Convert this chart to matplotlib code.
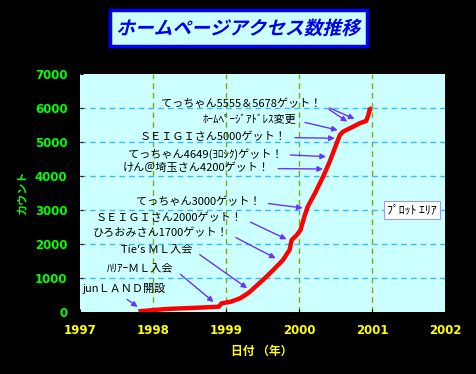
import matplotlib
matplotlib.use("Agg")
import matplotlib.pyplot as plt
from matplotlib.patches import Rectangle
from matplotlib.patheffects import AbstractPathEffect
from matplotlib.transforms import Affine2D

plt.rcParams["font.family"] = ["Noto Sans CJK JP", "DejaVu Sans"]

# access counter history (year, count)
years = [1997.80, 1998.19, 1998.60, 1998.90, 1998.94, 1999.06, 1999.19, 1999.28, 1999.33,
         1999.53, 1999.67, 1999.78, 1999.87, 1999.90, 1999.97, 2000.02, 2000.08, 2000.12,
         2000.17, 2000.22, 2000.33, 2000.42, 2000.49, 2000.56, 2000.60, 2000.74, 2000.83,
         2000.92, 2000.95, 2000.97, 2001.00]
counts = [20, 90, 125, 155, 255, 300, 400, 520, 600,
          990, 1285, 1530, 1825, 2120, 2265, 2410, 2850, 3100,
          3300, 3500, 3980, 4420, 4815, 5205, 5300, 5450, 5550,
          5620, 5795, 5970, 5990]

# events: label, arrow tip, label anchor
event_labels = ["てっちゃん5555＆5678ゲット！", "ﾎｰﾑﾍﾟｰｼﾞｱﾄﾞﾚｽ変更", "ＳＥＩＧＩさん5000ゲット！",
                "てっちゃん4649(ﾖﾛｼｸ)ゲット！", "けん＠埼玉さん4200ゲット！", "てっちゃん3000ゲット！",
                "ＳＥＩＧＩさん2000ゲット！", "ひろおみさん1700ゲット！", "Tie's ＭＬ入会",
                "ﾊﾘｱｰＭＬ入会", "junＬＡＮＤ開設"]
event_x = [2000.66, 2000.53, 2000.49, 2000.37, 2000.33, 2000.05, 1999.83, 1999.68, 1999.29, 1998.83, 1997.79]
event_y = [5600, 5350, 5110, 4570, 4205, 3060, 2140, 1580, 700, 295, 150]
extra_tip = (2000.76, 5680)  # second arrow of the 5555/5678 label
label_x = [2000.31, 1999.97, 1999.83, 1999.77, 1999.60, 1999.47, 1999.23, 1999.03, 1998.54, 1998.28, 1997.03]
label_y = [6118, 5647, 5147, 4647, 4235, 3235, 2765, 2323, 1853, 1294, 706]

xticks = [1997, 1998, 1999, 2000, 2001, 2002]
yticks = [0, 1000, 2000, 3000, 4000, 5000, 6000, 7000]

title = "ホームページアクセス数推移"
xlabel = "日付 （年）"
ylabel = "カウント"


class Italic(AbstractPathEffect):
    def draw_path(self, renderer, gc, tpath, affine, rgbFace=None):
        renderer.draw_path(gc, tpath, Affine2D().skew_deg(14, 0) + affine, rgbFace)


W, H = 476, 374
def px(x, y):
    return x / W, 1 - y / H

fig = plt.figure(figsize=(4.76, 3.74), dpi=100, facecolor="black")
ax = fig.add_axes([80 / W, 1 - 312 / H, 365 / W, 238 / H], facecolor="#CCFFFF")

ax.set_xlim(1997, 2002)
ax.set_ylim(0, 7000)
ax.set_xticks(xticks)
ax.set_yticks(yticks)
for x in xticks[1:-1]:
    ax.axvline(x, color="#88AA00", lw=1, ls=(0, (4, 3)), zorder=1)
for y in yticks[1:-1]:
    ax.axhline(y, color="#33BBFF", lw=1, ls=(0, (4, 3)), zorder=1)
for s in ax.spines.values():
    s.set_visible(False)
ax.tick_params(axis="x", colors="black", labelcolor="#FFFF00", direction="in", length=2, pad=9, labelsize=8.5)
ax.tick_params(axis="y", colors="black", labelcolor="#00FF00", direction="in", length=2, pad=9, labelsize=8.5)
for lab in ax.get_xticklabels() + ax.get_yticklabels():
    lab.set_fontweight("bold")
    lab.set_family("DejaVu Sans")

ax.plot(years, counts, color="#FF0000", lw=3.2, zorder=3, solid_capstyle="butt")

arrow = dict(arrowstyle="-|>", color="#6633FF", lw=1, mutation_scale=8, shrinkA=4, shrinkB=0)
for i, lab in enumerate(event_labels):
    props = dict(arrow)
    ha = "right"
    if i == len(event_labels) - 1:
        props["relpos"] = (0.42, 0.1)
        ha = "left"
    else:
        props["relpos"] = (1, 0.45)
    ax.annotate(lab, xy=(event_x[i], event_y[i]), xytext=(label_x[i], label_y[i]),
                ha=ha, va="center", fontsize=8, color="black",
                arrowprops=props, zorder=4)
props = dict(arrow)
props["relpos"] = (1, 0.45)
ax.annotate(event_labels[0], xy=extra_tip, xytext=(label_x[0], label_y[0]),
            ha="right", va="center", fontsize=8, color="none", arrowprops=props, zorder=4)

# plot area tag
fig.text(*px(412, 210), "ﾌﾟﾛｯﾄ ｴﾘｱ", ha="center", va="center", fontsize=8.5, color="black",
         bbox=dict(boxstyle="square,pad=0.25", fc="white", ec="#9999FF", lw=0.8))

# title box
fig.patches.append(Rectangle(px(110, 46), 257 / W, 36 / H, transform=fig.transFigure,
                             fc="#CCFFFF", ec="#0000FF", lw=2.5))
fig.text(*px(238, 29), title, ha="center", va="center", fontsize=13.5, fontweight="bold",
         color="#0000EE", path_effects=[Italic()])

fig.text(*px(22, 193), ylabel, ha="center", va="center", rotation=90, fontsize=8,
         fontweight="bold", color="#00FF00")
fig.text(*px(262, 351), xlabel, ha="center", va="center", fontsize=8.5,
         fontweight="bold", color="#FFFF00")

fig.savefig("out.png", dpi=100, facecolor="black")
